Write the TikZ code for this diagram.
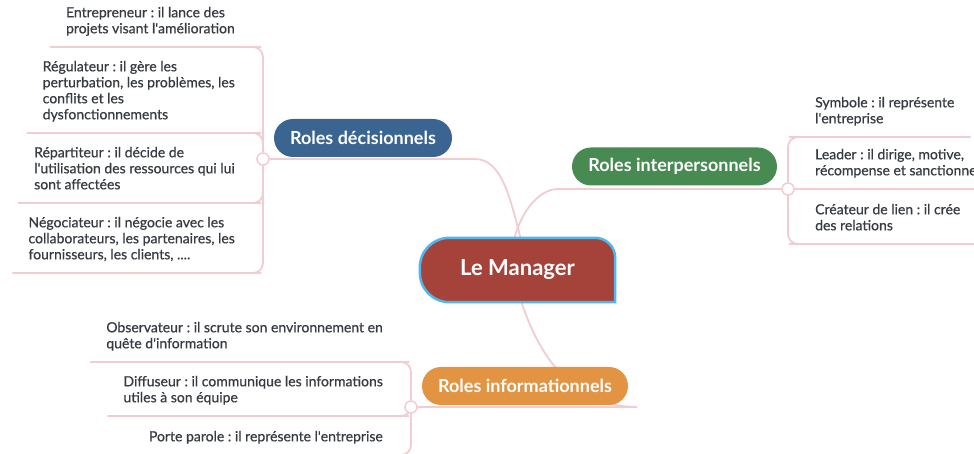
\documentclass[tikz,border=0pt]{standalone}
\usepackage{fontspec}
\setmainfont{Lato}
\newfontfamily\leaffont{Lato}[FakeBold=0.5]
\newcommand{\apos}{\textquotesingle}
\frenchspacing
\usetikzlibrary{positioning,backgrounds}

\definecolor{mgrred}{HTML}{A5433B}
\definecolor{mgrrim}{HTML}{4DB8EE}
\definecolor{decblue}{HTML}{3A6590}
\definecolor{intgreen}{HTML}{478B52}
\definecolor{infoorange}{HTML}{E39443}
\definecolor{linkpink}{HTML}{F1CDD1}
\definecolor{leaftext}{HTML}{373B41}

\tikzset{
  branch/.style={rounded corners=19pt, minimum height=38pt, inner xsep=16pt,
    text=white, font=\fontsize{18}{22}\selectfont\bfseries},
  leaf/.style={align=left, text=leaftext, font=\leaffont\fontsize{14}{16}\selectfont,
    inner xsep=16pt, inner ysep=13.5pt, text depth=0pt},
  link/.style={draw=linkpink, line width=1.8pt, rounded corners=10pt},
  knot/.style={circle, draw=linkpink, fill=white, line width=1.5pt,
    minimum size=12pt, inner sep=0pt},
}

\begin{document}
\begin{tikzpicture}[x=1pt,y=1pt]
   \useasboundingbox (0,0) rectangle (974,454);
   % centre and the three roles
   \node[minimum width=195pt, minimum height=64pt, text=white,
     font=\fontsize{22}{26}\selectfont\bfseries] (mgr) at (517.5,184) {Le Manager};
   \node[branch, fill=decblue, minimum width=178pt] (dec) at (363,316) {Roles décisionnels};
   \node[branch, fill=intgreen, minimum width=205pt] (inter) at (674.5,287.5) {Roles interpersonnels};
   \node[branch, fill=infoorange, minimum width=206pt] (info) at (525,68) {Roles informationnels};

   % knots where the leaves hang
   \node[knot] (kdec) at (263,295) {};
   \node[knot] (kinter) at (788,265) {};
   \node[knot] (kinfo) at (411,47) {};
   \coordinate (decend) at (465,295);
   \coordinate (interend) at (568,265);
   \coordinate (infoend) at (637,47);

   % leaves
   \node[leaf, anchor=south east] (entr) at (251,407) {Entrepreneur : il lance des\\projets visant l\apos amélioration};
   \node[leaf, anchor=south east] (regu) at (251,321) {Régulateur : il gère les\\perturbation, les problèmes, les\\conflits et les\\dysfonctionnements};
   \node[leaf, anchor=south east] (repa) at (251,251) {Répartiteur : il décide de\\l\apos utilisation des ressources qui lui\\sont affectées};
   \node[leaf, anchor=south east] (nego) at (251,181) {Négociateur : il négocie avec les\\collaborateurs, les partenaires, les\\fournisseurs, les clients, ....};

   \node[leaf, anchor=south west] (symb) at (799,317) {Symbole : il représente\\l\apos entreprise};
   \node[leaf, anchor=south west] (lead) at (799,265) {Leader : il dirige, motive,\\récompense et sanctionne};
   \node[leaf, anchor=south west] (crea) at (799,210) {Créateur de lien : il crée\\des relations};

   \node[leaf, anchor=south east] (obse) at (399,92) {Observateur : il scrute son environnement en\\quête d\apos information};
   \node[leaf, anchor=south east] (diff) at (399,38) {Diffuseur : il communique les informations\\utiles à son équipe};
   \node[leaf, anchor=south east] (port) at (399,-1) {Porte parole : il représente l\apos entreprise};

   \begin{scope}[on background layer]
     \fill[white] (0,0) rectangle (974,454);
     % centre to roles
     \draw[link] (kdec) -- (decend) to[out=0,in=105] ([xshift=3pt]mgr.north);
     \draw[link] (kinter) -- (interend) to[out=180,in=75] ([xshift=-3pt]mgr.north);
     \draw[link] (kinfo) -- (infoend);
     \draw[link] ([xshift=4pt]mgr.south) to[out=-72,in=180] (infoend);
     % roles to leaves
     \draw[link] (kdec) |- (entr.south east) -- (entr.south west);
     \draw[link] (kdec) |- (regu.south east) -- (regu.south west);
     \draw[link] (kdec) |- (repa.south east) -- (repa.south west);
     \draw[link] (kdec) |- (nego.south east) -- (nego.south west);
     \draw[link] (kinter) |- (symb.south west) -- (symb.south east);
     \draw[link] (kinter) -- (lead.south west) -- (lead.south east);
     \draw[link] (kinter) |- (crea.south west) -- (crea.south east);
     \draw[link] (kinfo) |- (obse.south east) -- (obse.south west);
     \draw[link] (kinfo) |- (diff.south east) -- (diff.south west);
     \draw[link] (kinfo) |- (port.south east) -- (port.south west);
     % the manager box
     \draw[fill=mgrred, draw=mgrrim, line width=2.5pt]
       (mgr.south east) -- ([yshift=-20pt]mgr.north east)
       .. controls ([yshift=-9pt]mgr.north east) and ([xshift=-9pt]mgr.north east) .. ([xshift=-20pt]mgr.north east)
       -- ([xshift=30pt]mgr.north west)
       .. controls ([xshift=13pt]mgr.north west) and ([yshift=-13pt]mgr.north west) .. ([yshift=-30pt]mgr.north west)
       -- ([yshift=30pt]mgr.south west)
       .. controls ([yshift=13pt]mgr.south west) and ([xshift=13pt]mgr.south west) .. ([xshift=30pt]mgr.south west)
       -- cycle;
   \end{scope}
\end{tikzpicture}
\end{document}
